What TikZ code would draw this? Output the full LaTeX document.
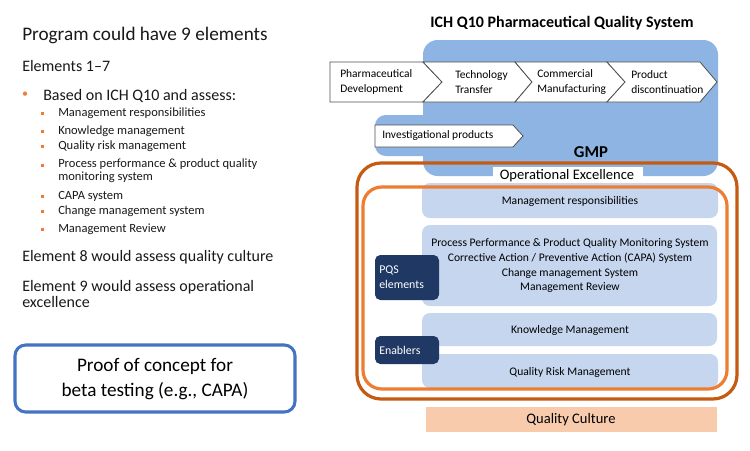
\documentclass[tikz,border=0pt]{standalone}
\usepackage{fontspec}
\setmainfont{Carlito}
\usepackage{xcolor}
\definecolor{gmpblue}{RGB}{141,180,226}
\definecolor{barblue}{RGB}{198,214,239}
\definecolor{pqsnavy}{RGB}{31,56,100}
\definecolor{culturepeach}{RGB}{248,203,173}
\definecolor{opexorange}{RGB}{197,90,17}
\definecolor{pqsorange}{RGB}{237,125,49}
\definecolor{proofblue}{RGB}{68,114,196}
\definecolor{chevgray}{RGB}{80,80,80}

\begin{document}
\begin{tikzpicture}[
    x=0.75pt, y=-0.75pt,
    lefttxt/.style={anchor=west, inner sep=0pt, align=left, text=black!90},
    subitem/.style={lefttxt, font=\fontsize{9.4}{9.9}\selectfont},
    chevbox/.style={draw=chevgray, fill=white, line width=0.6pt},
    chevtxt/.style={anchor=west, inner sep=0pt, align=left, font=\fontsize{8.6}{11.2}\selectfont},
    pqsbar/.style={fill=barblue, rounded corners=6pt},
    bartxt/.style={inner sep=0pt, align=center, font=\fontsize{8.7}{11.2}\selectfont},
    navybox/.style={fill=pqsnavy, rounded corners=4pt},
    navytxt/.style={anchor=west, inner sep=0pt, align=left, text=white, font=\fontsize{8.9}{11.2}\selectfont}
]
\useasboundingbox (0,0) rectangle (750,450);
\fill[white] (0,0) rectangle (750,450);

% left column
\node[lefttxt, font=\fontsize{14.4}{16}\selectfont] (prog) at (22,35) {Program could have 9 elements};
\node[lefttxt, font=\fontsize{12}{13}\selectfont] (el17) at (22,66) {Elements 1--7};
\node[anchor=center, inner sep=0pt, text=pqsorange, font=\fontsize{9}{9}\selectfont] (dot) at (25,95) {•};
\node[lefttxt, font=\fontsize{12}{13}\selectfont] (based) at (43,96) {Based on ICH Q10 and assess:};
\foreach \yy in {113,131,146,165,196,211,229}
    \fill[pqsorange] (40.5,\yy-1.5) rectangle (44,\yy+2);
\node[subitem] (s1) at (58,113) {Management responsibilities};
\node[subitem] (s2) at (58,131) {Knowledge management};
\node[subitem] (s3) at (58,146) {Quality risk management};
\node[subitem] (s4) at (58,171) {Process performance \& product quality\\monitoring system};
\node[subitem] (s5) at (58,196) {CAPA system};
\node[subitem] (s6) at (58,211) {Change management system};
\node[subitem] (s7) at (58,229) {Management Review};
\node[lefttxt, font=\fontsize{12}{13}\selectfont] (el8) at (22,257) {Element 8 would assess quality culture};
\node[lefttxt, font=\fontsize{12}{12}\selectfont] (el9) at (22,294) {Element 9 would assess operational\\excellence};

\draw[proofblue, line width=2.3pt, rounded corners=8pt] (15,345) rectangle (295,412);
\node[align=center, inner sep=0pt, font=\fontsize{14.4}{19}\selectfont] (proof) at (155,379) {Proof of concept for\\beta testing (e.g., CAPA)};

% right column
\node[inner sep=0pt, font=\bfseries\fontsize{12}{13}\selectfont] (title) at (562,23) {ICH Q10 Pharmaceutical Quality System};

\fill[gmpblue, rounded corners=11pt] (423,40) rectangle (718,176);
\fill[gmpblue, rounded corners=8pt] (375,115) rectangle (440,156);

\draw[chevbox] (330,62) -- (423,62) -- (442,82) -- (423,102) -- (330,102) -- cycle;
\draw[chevbox] (423,62) -- (515,62) -- (532,82) -- (515,102) -- (423,102) -- (442,82) -- cycle;
\draw[chevbox] (515,62) -- (607,62) -- (625,82) -- (607,102) -- (515,102) -- (532,82) -- cycle;
\draw[chevbox] (607,62) -- (700,62) -- (717,82) -- (700,102) -- (607,102) -- (625,82) -- cycle;
\node[chevtxt] (dev) at (340,82) {Pharmaceutical\\Development};
\node[chevtxt] (tt) at (455,82) {Technology\\Transfer};
\node[chevtxt] (cm) at (537,82) {Commercial\\Manufacturing};
\node[chevtxt] (pd) at (631,82) {Product\\discontinuation};

\draw[chevbox] (375,125) -- (513,125) -- (523,136) -- (513,147) -- (375,147) -- cycle;
\node[chevtxt] (inv) at (382,136) {Investigational products};
\node[inner sep=0pt, font=\bfseries\fontsize{12.5}{14}\selectfont] (gmp) at (591,152) {GMP};

% operational excellence frame
\fill[white] (493,167) rectangle (643,184);
\node[inner sep=0pt, font=\fontsize{10.9}{12}\selectfont] (opex) at (567,176) {Operational Excellence};
\draw[opexorange, line width=2.4pt, rounded corners=18pt] (357,163) rectangle (737,399);

% PQS bars
\fill[pqsbar] (422,183) rectangle (718,218);
\fill[pqsbar] (422,225) rectangle (717,306);
\fill[pqsbar] (422,313) rectangle (717,346);
\fill[pqsbar] (422,354) rectangle (718,388);
\node[bartxt] (mresp) at (570,201) {Management responsibilities};
\node[bartxt] (ppm) at (570,265.5) {Process Performance \& Product Quality Monitoring System\\Corrective Action / Preventive Action (CAPA) System\\Change management System\\Management Review};
\node[bartxt] (km) at (570,330) {Knowledge Management};
\node[bartxt] (qrm) at (570,372) {Quality Risk Management};
\draw[pqsorange, line width=2.4pt, rounded corners=14pt] (363,187) rectangle (727,389);

\fill[navybox] (375,255) rectangle (439,300);
\node[navytxt] (pqsel) at (379,277.5) {PQS\\elements};
\fill[navybox] (375,336) rectangle (439,364);
\node[navytxt] (enab) at (379,350) {Enablers};

\fill[culturepeach] (426,407) rectangle (717,432);
\node[inner sep=0pt, font=\fontsize{10.9}{12}\selectfont] (qc) at (571,420) {Quality Culture};
\end{tikzpicture}
\end{document}
